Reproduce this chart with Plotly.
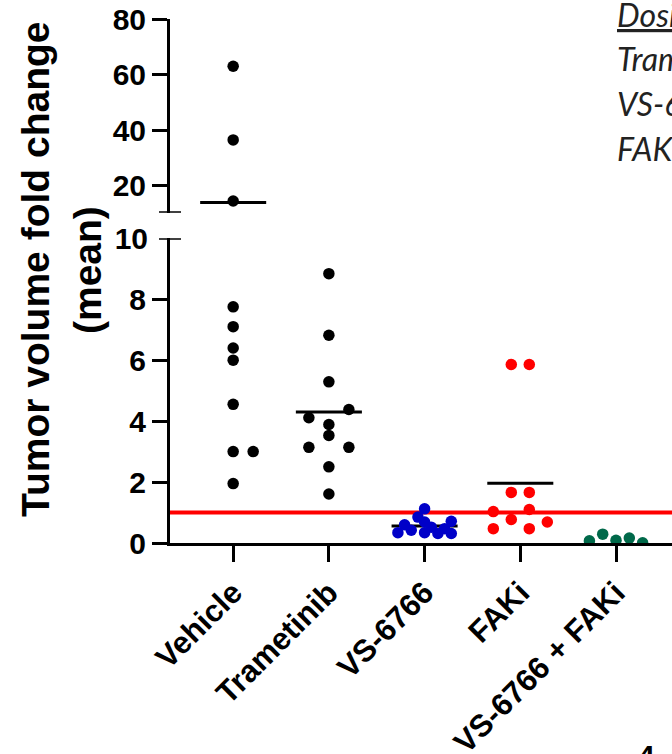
import numpy as np
import plotly.graph_objects as go

# ---------------- data ----------------
categories = ["Vehicle", "Trametinib", "VS-6766", "FAKi", "VS-6766 + FAKi"]
vehicle = [63.0, 36.5, 14.5, 7.75, 7.1, 6.4, 6.0, 4.55, 3.0, 3.0, 1.95]
trametinib = [8.84, 6.82, 5.29, 4.38, 4.11, 3.89, 3.53, 3.14, 3.14, 2.50, 1.61]
vs6766 = [1.12, 0.85, 0.60, 0.69, 0.71, 0.34, 0.42, 0.34, 0.31, 0.31, 0.47, 0.52]
faki = [5.86, 5.86, 1.66, 1.66, 1.03, 1.10, 0.77, 0.69, 0.47, 0.47]
combo = [0.07, 0.29, 0.09, 0.16, 0.01]
lower_ticks = [0, 2, 4, 6, 8]
break_tick = [10]
upper_ticks = [20, 40, 60, 80]
threshold = 1.0
dosing_lines = ["Dosing:", "Trametinib", "VS-6766", "FAKi"]

# ---------------- layout / styling ----------------
groups = [vehicle, trametinib, vs6766, faki, combo]
colors = ["#000000", "#000000", "#0000C8", "#FF0000", "#00694A"]
# dot-plot spreading (slot index, slot width in category units)
slots = [
    [0, 0, 0, 0, 0, 0, 0, 0, 0, 1, 0],
    [0, 0, 0, 1, -1, 0, 0, -1, 1, 0, 0],
    [0, -1, -3, 0, 4, -4, -2, 0, 2, 4, 3, 1],
    [-1, 1, -1, 1, -3, 1, -1, 3, -3, 1],
    [-2, -1, 0, 1, 2],
]
slot_w = [0.209, 0.209, 0.0697, 0.094, 0.139]
show_mean = [True, True, True, True, False]
lower_max = 10
upper_min = 10.3
mean_half = 0.345
FONT = "Liberation Sans, Arial, sans-serif"

fig = go.Figure()

mean_traces = []
for i, vals in enumerate(groups):
    if not show_mean[i]:
        continue
    m = float(np.mean(vals))
    ax = "y" if m <= lower_max else "y2"
    mean_traces.append(go.Scatter(x=[i - mean_half, i + mean_half], y=[m, m], mode="lines",
                                  xaxis="x", yaxis=ax, line=dict(color="black", width=3),
                                  showlegend=False, hoverinfo="skip"))
fig.add_traces(mean_traces)

for i, (vals, col) in enumerate(zip(groups, colors)):
    vals = np.asarray(vals, dtype=float)
    xs = i + np.asarray(slots[i]) * slot_w[i]
    lo = vals <= lower_max
    fig.add_trace(go.Scatter(x=xs[lo], y=vals[lo], mode="markers", xaxis="x", yaxis="y",
                             marker=dict(size=11.5, color=col, line=dict(width=0)),
                             showlegend=False, hoverinfo="skip"))
    if (~lo).any():
        fig.add_trace(go.Scatter(x=xs[~lo], y=vals[~lo], mode="markers", xaxis="x", yaxis="y2",
                                 marker=dict(size=11.5, color=col, line=dict(width=0)),
                                 showlegend=False, hoverinfo="skip"))

ytickfont = dict(family=FONT, size=30, color="black", weight="bold")
xtickfont = dict(family=FONT, size=31, color="black", weight="bold")
axis_common = dict(showline=True, linewidth=3, linecolor="black", ticks="outside",
                   tickwidth=3, tickcolor="black", showgrid=False, zeroline=False,
                   automargin=False)

fig.update_layout(
    width=672, height=754,
    margin=dict(l=170, r=0, t=19, b=211, autoexpand=False),
    paper_bgcolor="white", plot_bgcolor="white",
    xaxis=dict(range=[-0.66, 4.585], tickvals=list(range(len(categories))),
               ticktext=categories, tickangle=-45, ticklen=16, anchor="y",
               tickfont=xtickfont, **axis_common),
    yaxis=dict(domain=[0, 0.5815], range=[0, lower_max], tickvals=lower_ticks,
               ticklen=15, anchor="x", tickfont=ytickfont, **axis_common),
    yaxis3=dict(overlaying="y", range=[0, lower_max], tickvals=break_tick, ticks="outside",
                ticklen=15, tickcolor="rgba(0,0,0,0)", showline=False, showgrid=False,
                zeroline=False, anchor="x", side="left", tickfont=ytickfont,
                automargin=False),
    yaxis2=dict(domain=[0.6303, 1], range=[upper_min, 80], tickvals=upper_ticks,
                ticklen=15, anchor="x", tickfont=ytickfont, **axis_common),
)
# invisible trace so the overlaying axis carrying the "10" label renders
fig.add_trace(go.Scatter(x=[0], y=[0], xaxis="x", yaxis="y3", mode="markers",
                         marker=dict(opacity=0), showlegend=False, hoverinfo="skip"))

# threshold line
fig.add_shape(type="line", xref="paper", x0=0, x1=1, yref="y", y0=threshold, y1=threshold,
              line=dict(color="#FF0000", width=4), layer="below")
# axis break caps
for yr, yv in (("y", lower_max), ("y2", upper_min)):
    fig.add_shape(type="line", xref="paper", xsizemode="pixel", xanchor=0, x0=-11, x1=11,
                  yref=yr, y0=yv, y1=yv, line=dict(color="black", width=3))

# y-axis title (two lines)
fig.add_annotation(text="<b>Tumor volume fold change</b>", xref="paper", yref="paper",
                   x=0, xshift=-134, y=0.521, textangle=-90, showarrow=False,
                   font=dict(family=FONT, size=39, color="black"), xanchor="center", yanchor="middle")
fig.add_annotation(text="<b>(mean)</b>", xref="paper", yref="paper",
                   x=0, xshift=-82, y=0.521, textangle=-90, showarrow=False,
                   font=dict(family=FONT, size=39, color="black"), xanchor="center", yanchor="middle")

# dosing legend text (partly outside the crop)
for k, line in enumerate(dosing_lines):
    txt = f"<u>{line}</u>" if k == 0 else line
    fig.add_annotation(text=txt, xref="paper", yref="paper", x=(615 - 170) / 502,
                       y=(543 - (14 + 44.7 * k)) / 524, xanchor="left", yanchor="middle",
                       showarrow=False,
                       font=dict(family="Lato, Open Sans, sans-serif", size=32, color="#222222",
                                 style="italic"))

fig.add_annotation(text="<b>4</b>", xref="paper", yref="paper", x=(636 - 170) / 502,
                   y=(543 - 737) / 524, xanchor="left", yanchor="top", showarrow=False,
                   font=dict(family=FONT, size=30, color="black"))

fig.write_html("out.html", config={"displayModeBar": False},
               post_script="document.body.style.margin='0';")
